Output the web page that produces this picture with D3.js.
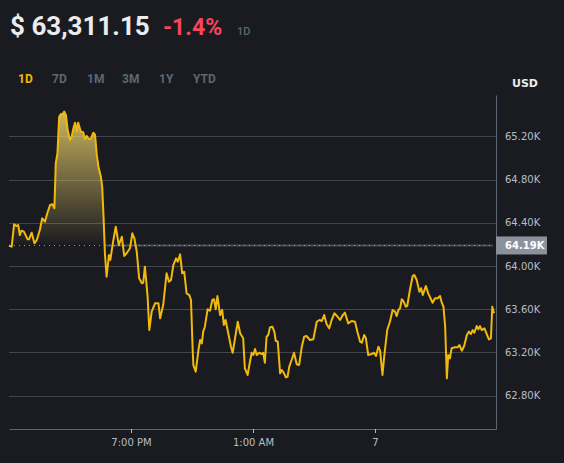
<!DOCTYPE html>
<html>
<head>
<meta charset="utf-8">
<style>
  body { margin: 0; background: #1a1b20; }
  svg { display: block; }
</style>
</head>
<body>
  <svg width="564" height="463"></svg>

  <script src="https://d3js.org/d3.v7.min.js"></script>

  <script>
    // minutes after the first point (13:00) and the price at that moment
    const minutes = [0, 8, 15, 23, 27, 32, 37, 44, 55, 59, 67, 75, 82, 91, 98, 106, 113, 121, 128, 134,
      138, 143, 148, 153, 157, 163, 168, 173, 180, 185, 190, 195, 200, 204, 212, 219, 224, 229, 236, 242,
      249, 254, 259, 264, 271, 275, 279, 283, 288, 295, 299, 308, 315, 324, 333, 340, 347, 357, 364, 370,
      377, 384, 392, 396, 401, 409, 414, 421, 431, 441, 446, 455, 465, 472, 478, 485, 493, 498, 505, 511,
      517, 524, 532, 537, 542, 544, 551, 559, 564, 569, 573, 578, 586, 593, 600, 605, 610, 615, 623, 629,
      634, 639, 647, 655, 660, 667, 675, 682, 691, 696, 704, 711, 716, 721, 726, 731, 738, 746, 750, 755,
      760, 765, 770, 777, 783, 787, 793, 800, 805, 809, 817, 822, 827, 834, 841, 849, 856, 864, 871, 878,
      888, 898, 908, 916, 923, 930, 937, 945, 952, 960, 967, 977, 985, 991, 1001, 1011, 1021, 1028, 1036, 1041,
      1048, 1053, 1060, 1070, 1077, 1083, 1090, 1095, 1102, 1107, 1116, 1124, 1132, 1139, 1144, 1149, 1154, 1159, 1163, 1171,
      1175, 1183, 1191, 1196, 1203, 1211, 1216, 1221, 1230, 1237, 1250, 1257, 1265, 1272, 1277, 1282, 1287, 1292, 1296, 1301,
      1306, 1316, 1324, 1329, 1336, 1343, 1351, 1357, 1363, 1368, 1373, 1380, 1385, 1390, 1395, 1403, 1408, 1416, 1422, 1426,
      1431];

    const prices = [64188, 64179, 64386, 64370, 64380, 64287, 64327, 64318, 64247, 64247, 64308, 64210, 64241, 64333, 64442, 64410, 64488, 64565, 64571, 64534,
      64951, 65044, 65382, 65407, 65398, 65429, 65398, 65259, 65167, 65197, 65275, 65327, 65244, 65327, 65244, 65238, 65173, 65204, 65173, 65182,
      65234, 65213, 65028, 64919, 64827, 64734, 64456, 64118, 63901, 64102, 64056, 64241, 64364, 64194, 64271, 64093, 64118, 64164, 64303, 64256,
      64132, 63886, 63840, 63845, 63994, 63716, 63407, 63577, 63655, 63655, 63516, 63639, 63932, 63855, 63870, 64009, 64071, 64040, 64108, 63932,
      63947, 63747, 63731, 63685, 63222, 63083, 63021, 63222, 63315, 63284, 63392, 63438, 63599, 63586, 63685, 63692, 63599, 63722, 63546, 63593,
      63454, 63500, 63377, 63253, 63197, 63331, 63484, 63377, 63331, 63053, 62991, 63114, 63197, 63176, 63231, 63176, 63197, 63185, 63197, 63105,
      63345, 63361, 63432, 63438, 63392, 63308, 63299, 63006, 63037, 63021, 62969, 62975, 63068, 63130, 63197, 63090, 63083, 63253, 63345, 63352,
      63315, 63321, 63484, 63500, 63491, 63546, 63463, 63423, 63500, 63562, 63540, 63500, 63546, 63568, 63469, 63491, 63484, 63392, 63299, 63290,
      63361, 63331, 63176, 63185, 63197, 63167, 63253, 63216, 62991, 63160, 63407, 63484, 63593, 63577, 63537, 63593, 63608, 63692, 63679, 63623,
      63630, 63778, 63907, 63917, 63870, 63762, 63794, 63731, 63815, 63747, 63660, 63701, 63701, 63722, 63660, 63623, 63438, 62960, 63176, 63145,
      63238, 63247, 63247, 63269, 63216, 63259, 63361, 63392, 63370, 63407, 63382, 63444, 63414, 63444, 63407, 63423, 63382, 63321, 63331, 63623,
      63562];

    const openPrice = 64190;        // the dotted reference line
    const yTicks = [62800, 63200, 63600, 64000, 64400, 64800, 65200];
    const xTickHours = [19, 25, 31];  // 7 PM, 1 AM, 7 AM next day
    const xTickLabels = ["7:00 PM", "1:00 AM", "7"];
    const ranges = ["1D", "7D", "1M", "3M", "1Y", "YTD"];

    const start = new Date(2024, 2, 6, 13, 0);
    const data = minutes.map((m, i) => ({ t: d3.timeMinute.offset(start, m), v: prices[i] }));

    const svg = d3.select("svg");
    const plotL = 9, plotR = 496, plotT = 95, plotB = 429;

    // header
    const head = svg.append("g").style("font-family", "Roboto, 'Noto Sans', sans-serif");
    head.append("text").attr("x", 10).attr("y", 35)
      .attr("fill", "#eaecef").attr("font-size", 26).attr("font-weight", 700)
      .text("$ 63,311.15");
    head.append("text").attr("x", 163).attr("y", 35)
      .attr("fill", "#f6465d").attr("font-size", 23).attr("font-weight", 700)
      .text("-1.4%");
    head.append("text").attr("x", 237).attr("y", 35)
      .attr("fill", "#5e6673").attr("font-size", 11).attr("font-weight", 500)
      .text("1D");

    // range tabs
    const tabX = [18, 52, 87, 122, 159, 193];
    head.selectAll(".tab").data(ranges).join("text")
      .attr("x", (d, i) => tabX[i]).attr("y", 83)
      .attr("font-size", 12).attr("font-weight", 700)
      .attr("fill", (d, i) => i === 0 ? "#f0b90b" : "#5e6673")
      .text(d => d);

    // scales
    const x = d3.scaleTime()
      .domain([start, d3.timeMinute.offset(start, 1437)])
      .range([plotL, plotR]);

    const y = d3.scaleLinear()
      .domain([62491, 65583])
      .range([plotB, plotT]);

    // grid lines
    svg.append("g").selectAll("line").data(yTicks).join("line")
      .attr("x1", plotL).attr("x2", plotR)
      .attr("y1", d => Math.round(y(d)) + 0.5).attr("y2", d => Math.round(y(d)) + 0.5)
      .attr("stroke", "#41454d").attr("stroke-width", 1);

    // gradient under the line above the open price
    const defs = svg.append("defs");
    const grad = defs.append("linearGradient").attr("id", "fill")
      .attr("gradientUnits", "userSpaceOnUse")
      .attr("x1", 0).attr("x2", 0)
      .attr("y1", y(d3.max(prices))).attr("y2", y(openPrice));
    grad.append("stop").attr("offset", 0).attr("stop-color", "#ecd06a").attr("stop-opacity", 0.85);
    grad.append("stop").attr("offset", 1).attr("stop-color", "#ecd06a").attr("stop-opacity", 0);

    defs.append("clipPath").attr("id", "above")
      .append("rect").attr("x", plotL).attr("y", plotT)
      .attr("width", plotR - plotL).attr("height", y(openPrice) - plotT);

    svg.append("path").datum(data)
      .attr("clip-path", "url(#above)")
      .attr("fill", "url(#fill)")
      .attr("d", d3.area().x(d => x(d.t)).y0(y(openPrice)).y1(d => y(d.v)));

    // where the line first falls under the open price (after the start)
    let cross = data.length - 1;
    for (let i = 3; i < data.length; i++) {
      if (prices[i - 1] >= openPrice && prices[i] < openPrice) { cross = i; break; }
    }
    const f = (prices[cross - 1] - openPrice) / (prices[cross - 1] - prices[cross]);
    const crossX = x(data[cross - 1].t) + f * (x(data[cross].t) - x(data[cross - 1].t));
    const baseY = y(openPrice);

    svg.append("line")
      .attr("x1", crossX).attr("x2", plotR - 3)
      .attr("y1", baseY).attr("y2", baseY)
      .attr("stroke", "#4a4d55").attr("stroke-width", 2);
    svg.append("line")
      .attr("x1", plotL).attr("x2", plotR - 3)
      .attr("y1", baseY).attr("y2", baseY)
      .attr("stroke", "#b0b5bd").attr("stroke-width", 1)
      .attr("stroke-dasharray", "1,4").attr("opacity", 0.8);

    // price line
    svg.append("path").datum(data)
      .attr("fill", "none")
      .attr("stroke", "#f0b90b")
      .attr("stroke-width", 2)
      .attr("stroke-linejoin", "round")
      .attr("d", d3.line().x(d => x(d.t)).y(d => y(d.v)));

    // axes
    const xAxis = svg.append("g")
      .attr("transform", `translate(0, ${plotB})`)
      .call(d3.axisBottom(x)
        .tickValues(xTickHours.map(h => d3.timeHour.offset(d3.timeDay.floor(start), h)))
        .tickFormat((d, i) => xTickLabels[i])
        .tickSizeInner(4).tickSizeOuter(0).tickPadding(6));
    xAxis.select(".domain").attr("stroke", "#5e6673");
    xAxis.selectAll(".tick line").attr("stroke", "#b7bdc6");
    xAxis.selectAll("text").attr("fill", "#b7bdc6")
      .style("font-family", "'DejaVu Sans', sans-serif").style("font-size", "10px");

    const yAxis = svg.append("g")
      .attr("transform", `translate(${plotR}, 0)`)
      .call(d3.axisRight(y)
        .tickValues(yTicks)
        .tickFormat(d => (d / 1000).toFixed(2) + "K")
        .tickSize(0).tickPadding(9));
    yAxis.select(".domain").attr("stroke", "#5e6673");
    yAxis.selectAll("text").attr("fill", "#b7bdc6")
      .style("font-family", "'DejaVu Sans', sans-serif").style("font-size", "10px");

    // open price tag on the axis
    svg.append("rect")
      .attr("x", plotR).attr("y", baseY - 9)
      .attr("width", 51).attr("height", 18)
      .attr("fill", "#8c929c");
    svg.append("text")
      .attr("x", plotR + 9).attr("y", baseY + 4)
      .attr("fill", "#ffffff")
      .style("font-family", "'DejaVu Sans', sans-serif").style("font-size", "10px")
      .style("font-weight", 700)
      .text((openPrice / 1000).toFixed(2) + "K");

    svg.append("text")
      .attr("x", 512).attr("y", 87)
      .attr("fill", "#eaecef")
      .style("font-family", "'DejaVu Sans', sans-serif").style("font-size", "11px")
      .style("font-weight", 700)
      .text("USD");
  </script>
</body>
</html>
